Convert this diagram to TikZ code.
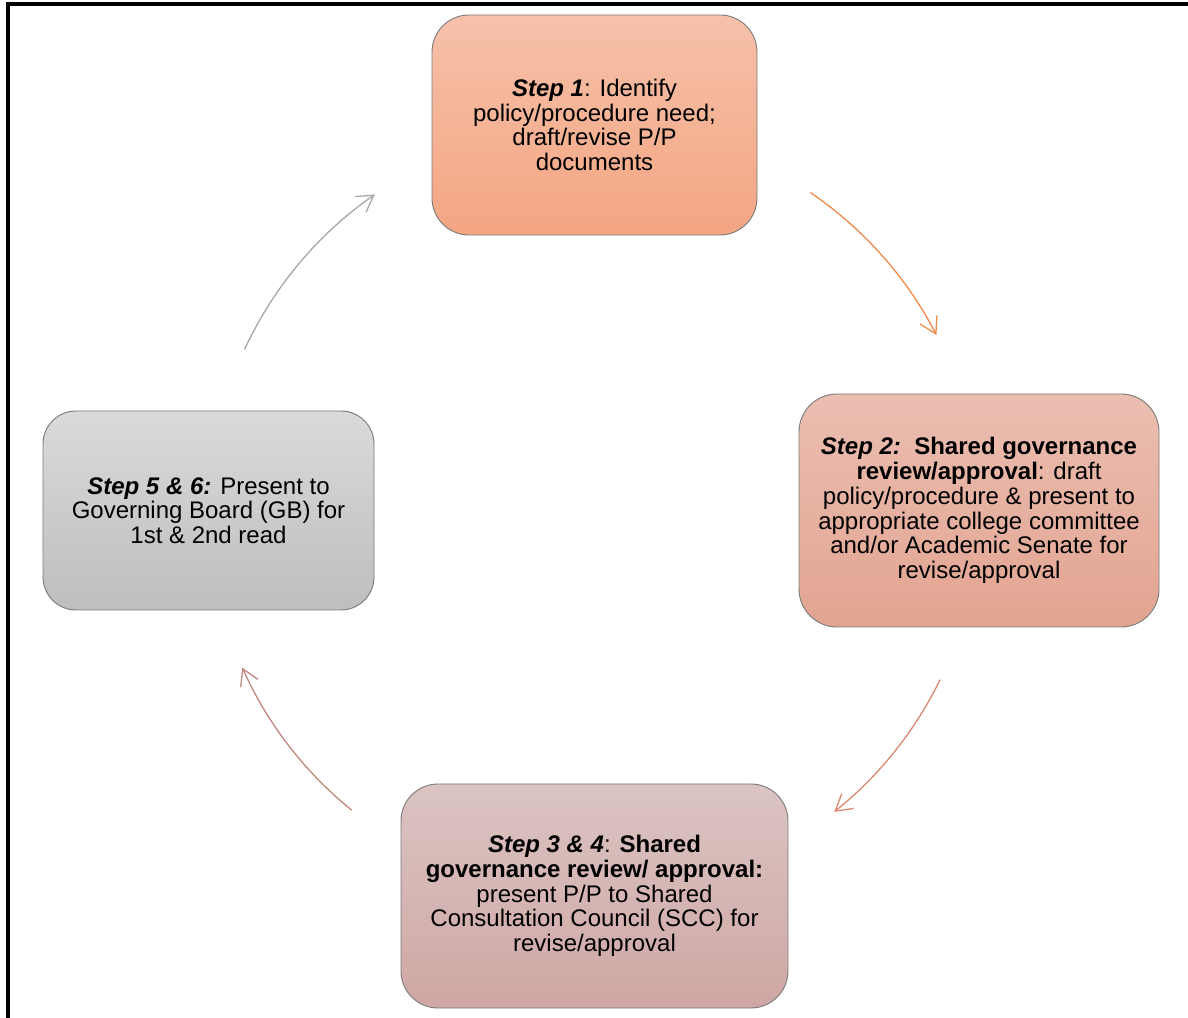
\documentclass[tikz,border=0pt]{standalone}
\usepackage{fontspec}
\setmainfont{Liberation Sans}
\usetikzlibrary{arrows.meta,calc}
\definecolor{b1top}{HTML}{F6C1AA}
\definecolor{b1bot}{HTML}{F4A582}
\definecolor{b2top}{HTML}{EBBEB1}
\definecolor{b2bot}{HTML}{E2A491}
\definecolor{b3top}{HTML}{DAC4C2}
\definecolor{b3bot}{HTML}{CFA7A4}
\definecolor{b4top}{HTML}{DADADA}
\definecolor{b4bot}{HTML}{BEBEBE}
\definecolor{a1c}{HTML}{EF8C4C}
\definecolor{a2c}{HTML}{DA8870}
\definecolor{a3c}{HTML}{C2877E}
\definecolor{a4c}{HTML}{A8A8A8}
\definecolor{edgec}{HTML}{7A7A7A}
\tikzset{
  stepbox/.style={draw=edgec, line width=0.9pt, align=center, inner sep=0pt,
    font=\fontsize{24}{24.7}\selectfont, text=black},
  cyclearrow/.style={line width=1.3pt, -{Straight Barb[length=16pt, width=19pt, line width=1.3pt]}}
}
\begin{document}
\begin{tikzpicture}[x=1pt, y=1pt]
\useasboundingbox (0,0) rectangle (1188,1017);
\fill[white] (0,0) rectangle (1188,1017);
\draw[line width=4pt, miter limit=10] (1188,1013) -- (8,1013) -- (8,-2);

\node[stepbox, rounded corners=37pt, minimum width=325pt, minimum height=220pt,
  top color=b1top, bottom color=b1bot] (s1) at (594.5,892)
  {\textbf{\textit{Step 1}}: Identify\\policy/procedure need;\\draft/revise P/P\\documents};

\node[stepbox, rounded corners=38pt, minimum width=360pt, minimum height=233pt,
  top color=b2top, bottom color=b2bot] (s2) at (979,506.5)
  {\textbf{\textit{Step 2:}}\ \ \textbf{Shared governance}\\\textbf{review/approval}: draft\\policy/procedure \& present to\\appropriate college committee\\and/or Academic Senate for\\revise/approval};

\node[stepbox, rounded corners=37pt, minimum width=387pt, minimum height=224pt,
  top color=b3top, bottom color=b3bot] (s3) at (594.5,121)
  {\textbf{\textit{Step 3 \& 4}}: \textbf{Shared}\\\textbf{governance review/ approval:}\\present P/P to Shared\\Consultation Council (SCC) for\\revise/approval};

\node[stepbox, rounded corners=33pt, minimum width=331pt, minimum height=199pt,
  top color=b4top, bottom color=b4bot] (s4) at (208.5,506.5)
  {\textbf{\textit{Step 5 \& 6:}} Present to\\Governing Board (GB) for\\1st \& 2nd read};

\coordinate (ctr) at (594,506);
\coordinate (a1s) at ($(ctr)+(55.8:385)$);
\coordinate (a2s) at ($(ctr)+(-26:385)$);
\coordinate (a3s) at ($(ctr)+(231:385)$);
\coordinate (a4s) at ($(ctr)+(155.2:385)$);

\draw[cyclearrow, a1c] (a1s) arc[start angle=55.8, end angle=27.2, radius=385];
\draw[cyclearrow, a2c] (a2s) arc[start angle=-26, end angle=-51.4, radius=385];
\draw[cyclearrow, a3c] (a3s) arc[start angle=231, end angle=204, radius=385];
\draw[cyclearrow, a4c] (a4s) arc[start angle=155.2, end angle=124.7, radius=385];
\end{tikzpicture}
\end{document}
